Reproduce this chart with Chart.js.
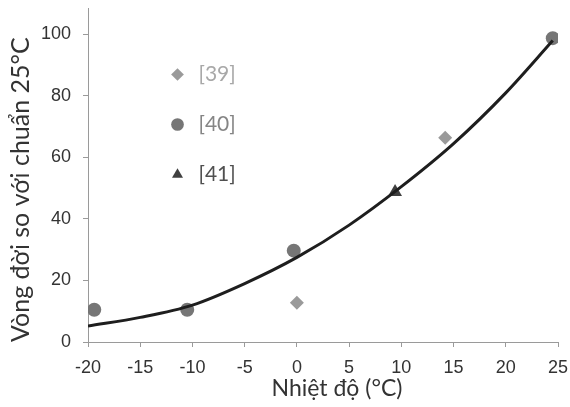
<!DOCTYPE html>
<html lang="vi">
<head>
  <meta charset="UTF-8" />
  <title>Vòng đời theo nhiệt độ</title>
  <script src="https://cdn.jsdelivr.net/npm/chart.js"></script>
  <style>
    html, body { margin: 0; padding: 0; background: #fff; }
    #wrap { width: 570px; height: 407px; }
  </style>
</head>
<body>
  <div id="wrap"><canvas id="lifeChart" width="570" height="407"></canvas></div>

  <script>
    // values
    const seriesNames = ["[39]", "[40]", "[41]"];
    const ref39X = [0, 14.2];
    const ref39Y = [12.8, 66.4];
    const ref40X = [-19.4, -10.5, -0.3, 24.5];
    const ref40Y = [10.5, 10.5, 29.7, 98.8];
    const ref41X = [9.4];
    const ref41Y = [48.8];
    const fitX = [-20, -15, -10, -5, 0, 5, 10, 15, 20, 24.5];
    const fitY = [5.2, 8, 12, 19, 27.5, 38, 50.5, 64.5, 81, 98];
    const xTicks = [-20, -15, -10, -5, 0, 5, 10, 15, 20, 25];
    const yTicks = [0, 20, 40, 60, 80, 100];

    const toPoints = (xs, ys) => xs.map((x, i) => ({ x: x, y: ys[i] }));

    const markerColors = ["#9a9a9a", "#767676", "#404040"];
    const legendTextColors = ["#a8a8a8", "#858585", "#505050"];
    const axisColor = "#9a9a9a";
    const calibriLike = "Lato, 'Open Sans', sans-serif";
    const arialLike = "'Liberation Sans', Arial, sans-serif";

    // put the legend inside the plot, like the original
    const legendInside = {
      id: "legendInside",
      afterLayout(chart) {
        const lg = chart.legend;
        lg.left += 50;
        lg.top += 35;
        const xs = chart.scales.x;
        if (!xs._titleShifted) {
          const orig = xs.drawTitle;
          xs.drawTitle = function () {
            this.ctx.save();
            this.ctx.translate(14, 0);
            orig.apply(this, arguments);
            this.ctx.restore();
          };
          xs._titleShifted = true;
        }
      }
    };

    new Chart(document.getElementById("lifeChart"), {
      type: "scatter",
      data: {
        datasets: [
          {
            label: seriesNames[0],
            data: toPoints(ref39X, ref39Y),
            pointStyle: "rectRot",
            pointRadius: 7,
            backgroundColor: markerColors[0],
            borderColor: markerColors[0],
            borderWidth: 0,
            order: 1
          },
          {
            label: seriesNames[1],
            data: toPoints(ref40X, ref40Y),
            pointStyle: "circle",
            pointRadius: 7,
            backgroundColor: markerColors[1],
            borderColor: markerColors[1],
            borderWidth: 0,
            order: 1
          },
          {
            label: seriesNames[2],
            data: toPoints(ref41X, ref41Y),
            pointStyle: "triangle",
            pointRadius: 8,
            backgroundColor: markerColors[2],
            borderColor: markerColors[2],
            borderWidth: 0,
            order: 1
          },
          {
            label: "fit",
            data: toPoints(fitX, fitY),
            showLine: true,
            pointRadius: 0,
            borderColor: "#1e1e1e",
            borderWidth: 3,
            cubicInterpolationMode: "monotone",
            order: 0
          }
        ]
      },
      plugins: [legendInside],
      options: {
        responsive: false,
        animation: false,
        layout: { padding: { top: 8, right: 12, left: 0, bottom: 0 } },
        plugins: {
          tooltip: { enabled: false },
          legend: {
            position: "chartArea",
            align: "start",
            labels: {
              usePointStyle: true,
              boxHeight: 9,
              padding: 29,
              font: { family: calibriLike, size: 21 },
              generateLabels(chart) {
                const items = Chart.defaults.plugins.legend.labels.generateLabels(chart);
                return items
                  .filter(it => it.datasetIndex < 3)
                  .map(it => Object.assign(it, { fontColor: legendTextColors[it.datasetIndex], lineWidth: 0 }));
              }
            }
          }
        },
        scales: {
          x: {
            type: "linear",
            min: -20,
            max: 25,
            afterBuildTicks: s => { s.ticks = xTicks.map(v => ({ value: v })); },
            afterFit: s => { s.height = 65; s.paddingLeft = 0; s.paddingRight = 0; },
            grid: { drawOnChartArea: false, drawTicks: true, tickLength: 5, color: axisColor },
            border: { color: axisColor, width: 1 },
            ticks: { color: "#333", font: { family: arialLike, size: 18 }, padding: 10, maxRotation: 0 },
            title: {
              display: true,
              text: "Nhiệt độ (°C)",
              color: "#333",
              font: { family: calibriLike, size: 23 },
              padding: { top: 0, bottom: 5 }
            }
          },
          y: {
            type: "linear",
            min: 0,
            max: 108.6,
            afterBuildTicks: s => { s.ticks = yTicks.map(v => ({ value: v })); },
            afterFit: s => { s.width = 88; s.paddingTop = 0; s.paddingBottom = 0; },
            grid: { drawOnChartArea: false, drawTicks: true, tickLength: 5, color: axisColor },
            border: { color: axisColor, width: 1 },
            ticks: { color: "#333", font: { family: arialLike, size: 18 }, padding: 12 },
            title: {
              display: true,
              text: "Vòng đời so với chuẩn 25°C",
              align: "start",
              color: "#333",
              font: { family: calibriLike, size: 25 },
              padding: { top: 6, bottom: 0 }
            }
          }
        }
      }
    });
  </script>
</body>
</html>
